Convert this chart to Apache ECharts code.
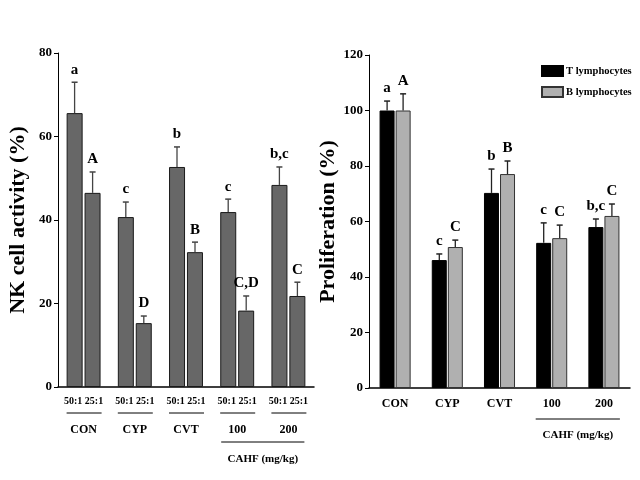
<!DOCTYPE html>
<html>
<head>
<meta charset="utf-8">
<script src="https://cdn.jsdelivr.net/npm/echarts@6/dist/echarts.min.js"></script>
<style>html,body{margin:0;padding:0;background:#fff}#c{width:640px;height:480px}</style>
</head>
<body>
<div id="c"></div>
<script>
const categories = ['CON', 'CYP', 'CVT', '100', '200'];
const ratioLabels = ['50:1', '25:1'];
const nk50 = [65.6, 40.7, 52.7, 41.9, 48.4];
const nk50Err = [7.4, 3.6, 4.8, 3.1, 4.3];
const nk50Sig = ['a', 'c', 'b', 'c', 'b,c'];
const nk25 = [46.5, 15.3, 32.3, 18.3, 21.8];
const nk25Err = [5.0, 1.7, 2.4, 3.5, 3.3];
const nk25Sig = ['A', 'D', 'B', 'C,D', 'C'];
const tLym = [100, 46.1, 70.3, 52.3, 58.0];
const tErr = [3.4, 2.2, 8.6, 7.2, 2.9];
const tSig = ['a', 'c', 'b', 'c', 'b,c'];
const bLym = [100, 50.8, 77.1, 54.0, 62.0];
const bErr = [6.0, 2.5, 4.7, 4.7, 4.3];
const bSig = ['A', 'C', 'B', 'C', 'C'];
const leftTicks = [0, 20, 40, 60, 80];
const rightTicks = [0, 20, 40, 60, 80, 100, 120];
const doseGroupLabel = 'CAHF (mg/kg)';

const SERIF = '"Liberation Serif", "Times New Roman", serif';
const chart = echarts.init(document.getElementById('c'));

function errSeries(xi, yi, vals, errs, sigs, offset, color) {
  return {
    type: 'custom', xAxisIndex: xi, yAxisIndex: yi, z: 10, clip: false,
    data: vals.map((v, i) => [i, v, errs[i], sigs[i]]),
    renderItem: function (params, api) {
      const c = api.value(0), v = api.value(1), e = api.value(2);
      const p = api.coord([c, v]);
      const t = api.coord([c, v + e]);
      const x = p[0] + offset;
      return {
        type: 'group', children: [
          { type: 'line', shape: { x1: x, y1: p[1], x2: x, y2: t[1] }, style: { stroke: color, lineWidth: 1.3 } },
          { type: 'line', shape: { x1: x - 3, y1: t[1], x2: x + 3, y2: t[1] }, style: { stroke: color, lineWidth: 1.5 } },
          { type: 'text', style: { text: sigs[c], x: x, y: t[1] - 5, align: 'center', verticalAlign: 'bottom', font: 'bold 15px ' + SERIF, fill: '#000' } }
        ]
      };
    }
  };
}

function doseSeries(xi, yi, lineDy, textDy, underlineEach, underDy) {
  return {
    type: 'custom', xAxisIndex: xi, yAxisIndex: yi, z: 5, clip: false, silent: true,
    data: categories.map((c, i) => [i, 0]),
    renderItem: function (params, api) {
      const i = api.value(0);
      const p = api.coord([i, 0]);
      const children = [];
      if (underlineEach) {
        children.push({ type: 'line', shape: { x1: p[0] - 17, y1: p[1] + underDy, x2: p[0] + 18, y2: p[1] + underDy }, style: { stroke: '#000', lineWidth: 1 } });
      }
      if (i === 3) {
        const q = api.coord([4, 0]);
        children.push({ type: 'line', shape: { x1: p[0] - 16, y1: p[1] + lineDy, x2: q[0] + 16, y2: p[1] + lineDy }, style: { stroke: '#000', lineWidth: 1 } });
        children.push({ type: 'text', style: { text: doseGroupLabel, x: (p[0] + q[0]) / 2, y: p[1] + textDy, align: 'center', verticalAlign: 'middle', font: 'bold 11px ' + SERIF, fill: '#000' } });
      }
      return { type: 'group', children: children };
    }
  };
}

const yAxisCommon = {
  type: 'value', nameLocation: 'middle', nameRotate: 90,
  axisLine: { show: true, lineStyle: { color: '#000', width: 1 } },
  axisTick: { show: true, length: 4, lineStyle: { color: '#000' } },
  splitLine: { show: false },
  axisLabel: { color: '#000', fontFamily: SERIF, fontWeight: 'bold', fontSize: 13, margin: 6 },
  nameTextStyle: { color: '#000', fontFamily: SERIF, fontWeight: 'bold', fontSize: 22 }
};

const option = {
  animation: false,
  backgroundColor: '#fff',
  grid: [
    { left: 58, top: 53, width: 256, bottom: 93 },
    { left: 369, top: 55, width: 261, bottom: 92 }
  ],
  legend: {
    left: 536, top: 60, orient: 'vertical', itemWidth: 21, itemHeight: 10, itemGap: 9, icon: 'rect',
    data: ['T lymphocytes', 'B lymphocytes'],
    textStyle: { color: '#000', fontFamily: SERIF, fontWeight: 'bold', fontSize: 10.5, padding: [0, 0, 0, -2] }
  },
  xAxis: [
    {
      type: 'category', gridIndex: 0, data: categories,
      axisLine: { lineStyle: { color: '#000', width: 1.5 } }, axisTick: { show: false },
      axisLabel: {
        interval: 0, margin: 6, color: '#000', fontFamily: SERIF, fontWeight: 'bold',
        formatter: v => '{s|' + ratioLabels[0] + ' ' + ratioLabels[1] + '}\n{g|' + v + '}',
        rich: {
          s: { fontSize: 10, lineHeight: 16, fontFamily: SERIF, fontWeight: 'bold', color: '#000' },
          g: { fontSize: 12, lineHeight: 42, fontFamily: SERIF, fontWeight: 'bold', color: '#000' }
        }
      }
    },
    {
      type: 'category', gridIndex: 1, data: categories,
      axisLine: { lineStyle: { color: '#000', width: 1.5 } }, axisTick: { show: false },
      axisLabel: { interval: 0, margin: 10, color: '#000', fontFamily: SERIF, fontWeight: 'bold', fontSize: 12 }
    }
  ],
  yAxis: [
    Object.assign({}, yAxisCommon, { gridIndex: 0, min: leftTicks[0], max: leftTicks[leftTicks.length - 1], interval: 20, name: 'NK cell activity (%)', nameGap: 29 }),
    Object.assign({}, yAxisCommon, { gridIndex: 1, min: rightTicks[0], max: rightTicks[rightTicks.length - 1], interval: 20, name: 'Proliferation (%)', nameGap: 25 })
  ],
  series: [
    { name: '50:1', type: 'bar', xAxisIndex: 0, yAxisIndex: 0, data: nk50, barWidth: 16, barGap: '12%',
      itemStyle: { color: '#676767', borderColor: '#1a1a1a', borderWidth: 1 } },
    { name: '25:1', type: 'bar', xAxisIndex: 0, yAxisIndex: 0, data: nk25, barWidth: 16, barGap: '12%',
      itemStyle: { color: '#676767', borderColor: '#1a1a1a', borderWidth: 1 } },
    { name: 'T lymphocytes', type: 'bar', xAxisIndex: 1, yAxisIndex: 1, data: tLym, barWidth: 15, barGap: '7%',
      itemStyle: { color: '#000', borderColor: '#000', borderWidth: 1 } },
    { name: 'B lymphocytes', type: 'bar', xAxisIndex: 1, yAxisIndex: 1, data: bLym, barWidth: 15, barGap: '7%',
      itemStyle: { color: '#b0b0b0', borderColor: '#333', borderWidth: 1 } },
    errSeries(0, 0, nk50, nk50Err, nk50Sig, -9, '#444'),
    errSeries(0, 0, nk25, nk25Err, nk25Sig, 9, '#444'),
    errSeries(1, 1, tLym, tErr, tSig, -8, '#222'),
    errSeries(1, 1, bLym, bErr, bSig, 8, '#222'),
    doseSeries(0, 0, 55, 72, true, 26),
    doseSeries(1, 1, 31, 47, false, 0)
  ]
};
chart.setOption(option);
</script>
</body>
</html>
